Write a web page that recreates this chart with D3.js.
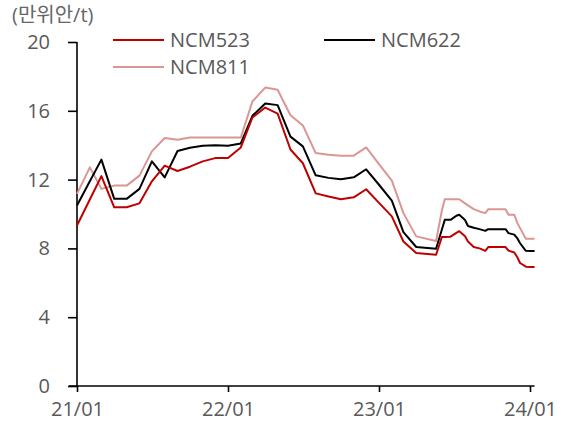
<!DOCTYPE html>
<html>
<head>
<meta charset="utf-8">
<script src="https://d3js.org/d3.v7.min.js"></script>
<style>
    body { margin: 0; background: #fff; }
    svg { display: block; }
    .axis text {
        font-family: "Open Sans", "Noto Sans CJK KR", sans-serif;
        font-size: 20px;
        fill: #595959;
    }
    .axis path, .axis line { stroke: #000; stroke-width: 1.6; }
    .series { fill: none; stroke-width: 2; stroke-linejoin: round; }
    .label {
        font-family: "Open Sans", "Noto Sans CJK KR", sans-serif;
        font-size: 20px;
        fill: #595959;
    }
</style>
</head>
<body>
<svg width="567" height="430"></svg>
<script>
// dates: monthly to Apr 2023, then roughly weekly
const dates = [
    "2021-01-01","2021-02-01","2021-03-01","2021-04-01","2021-05-01","2021-06-01",
    "2021-07-01","2021-08-01","2021-09-01","2021-10-01","2021-11-01","2021-12-01",
    "2022-01-01","2022-02-01","2022-03-01","2022-04-01","2022-05-01","2022-06-01",
    "2022-07-01","2022-08-01","2022-09-01","2022-10-01","2022-11-01","2022-12-01",
    "2023-01-01","2023-02-01","2023-03-01","2023-04-01",
    "2023-05-19","2023-06-02","2023-06-09","2023-06-23","2023-07-07","2023-07-14",
    "2023-07-28","2023-08-04","2023-08-18","2023-09-01","2023-09-15","2023-09-22",
    "2023-10-06","2023-10-20","2023-11-03","2023-11-10","2023-11-24","2023-12-01",
    "2023-12-08","2023-12-22","2024-01-05","2024-01-12"
];

const ncm523 = [
    9.33, 10.84, 12.2, 10.39, 10.39, 10.62,
    11.9, 12.81, 12.5, 12.75, 13.06, 13.25,
    13.25, 13.87, 15.61, 16.19, 15.84, 13.75,
    12.95, 11.2, 11.02, 10.86, 10.97, 11.44,
    10.65, 9.86, 8.4, 7.73,
    7.63, 8.66, 8.66, 8.68, 8.9, 9.0,
    8.7, 8.4, 8.08, 8.0, 7.86, 8.08,
    8.08, 8.08, 8.08, 7.87, 7.76, 7.5,
    7.15, 6.94, 6.92, 6.92
];

const ncm622 = [
    10.49, 11.9, 13.16, 10.88, 10.88, 11.46,
    13.06, 12.13, 13.66, 13.85, 13.97, 14.0,
    13.97, 14.1, 15.71, 16.42, 16.33, 14.5,
    13.93, 12.25, 12.1, 12.02, 12.13, 12.6,
    11.7, 10.78, 8.95, 8.08,
    7.98, 9.1, 9.66, 9.66, 9.9, 9.96,
    9.65, 9.3, 9.2, 9.12, 9.02, 9.12,
    9.12, 9.12, 9.12, 8.89, 8.8, 8.6,
    8.3, 7.86, 7.85, 7.85
];

const ncm811 = [
    11.17, 12.71, 11.46, 11.65, 11.65, 12.23,
    13.64, 14.42, 14.32, 14.45, 14.45, 14.45,
    14.45, 14.45, 16.54, 17.35, 17.22, 15.74,
    15.15, 13.54, 13.45, 13.39, 13.39, 13.87,
    12.9, 11.94, 10.05, 8.7,
    8.43, 10.2, 10.86, 10.86, 10.86, 10.86,
    10.62, 10.5, 10.28, 10.15, 10.05, 10.28,
    10.28, 10.28, 10.28, 9.96, 9.96, 9.5,
    9.18, 8.56, 8.56, 8.56
];

const seriesNames = ["NCM523", "NCM622", "NCM811"];
const seriesColors = ["#C00000", "#000000", "#DA9694"];
const yTicks = [0, 4, 8, 12, 16, 20];
const xTicks = ["2021-01-01", "2022-01-01", "2023-01-01", "2024-01-01"];
const xTickLabels = ["21/01", "22/01", "23/01", "24/01"];
const unitLabel = "(만위안/t)";

const parse = d3.timeParse("%Y-%m-%d");
const dateObjs = dates.map(parse);

const margin = { top: 42, left: 77, bottom: 44 };
const svg = d3.select("svg");

const x = d3.scaleTime()
    .domain([parse("2021-01-01"), parse("2024-01-01")])
    .range([77, 530]);
const y = d3.scaleLinear()
    .domain([0, 20])
    .range([386, 42]);

// y axis
const yAxis = svg.append("g")
    .attr("class", "axis")
    .attr("transform", "translate(" + margin.left + ",0)")
    .call(d3.axisLeft(y).tickValues(yTicks).tickSize(9).tickSizeOuter(0).tickPadding(18));
yAxis.select(".domain").attr("d", "M0," + y(20) + "V" + y(0));

// x axis
const xAxis = svg.append("g")
    .attr("class", "axis")
    .attr("transform", "translate(0," + y(0) + ")")
    .call(d3.axisBottom(x)
        .tickValues(xTicks.map(parse))
        .tickFormat((d, i) => xTickLabels[i])
        .tickSize(6).tickSizeOuter(0).tickPadding(10));
xAxis.select(".domain")
    .attr("d", "M" + (margin.left - 8) + ",0H" + x(dateObjs[dateObjs.length - 1]));

// lines
const allSeries = [ncm523, ncm622, ncm811];
const line = d3.line()
    .x((d, i) => x(dateObjs[i]))
    .y(d => y(d));

// draw 811 first, then 622, then 523 on top
[2, 1, 0].forEach(k => {
    svg.append("path")
        .attr("class", "series")
        .attr("stroke", seriesColors[k])
        .attr("d", line(allSeries[k]));
});

// unit label
svg.append("text")
    .attr("class", "label")
    .attr("x", 12)
    .attr("y", 22)
    .style("font-size", "20px")
    .style("fill", "#666")
    .text(unitLabel);

// legend
const legendPos = [[113, 40], [324, 40], [113, 67]];
seriesNames.forEach((name, k) => {
    const g = svg.append("g").attr("transform", "translate(" + legendPos[k][0] + "," + legendPos[k][1] + ")");
    g.append("line")
        .attr("x1", 0).attr("x2", 51)
        .attr("y1", 0).attr("y2", 0)
        .attr("stroke", seriesColors[k])
        .attr("stroke-width", 2);
    g.append("text")
        .attr("class", "label")
        .attr("x", 57)
        .attr("y", 7)
        .text(name);
});
</script>
</body>
</html>
